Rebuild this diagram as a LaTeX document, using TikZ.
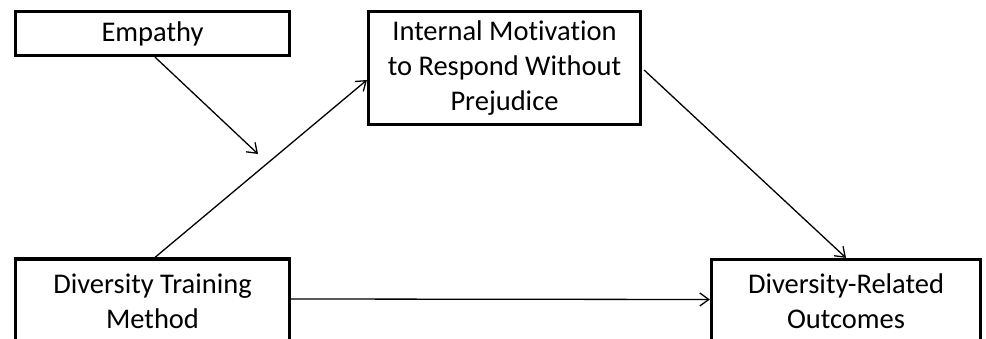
\documentclass[tikz,border=0pt]{standalone}
\usepackage{fontspec}
\setmainfont[Ligatures=NoCommon]{Carlito}
\usetikzlibrary{arrows.meta,calc}
\begin{document}
\begin{tikzpicture}[x=1pt,y=-1pt,
  box/.style={draw=black,line width=3.2pt,fill=white,align=center,inner sep=0pt,
    font=\fontsize{28.5}{35}\selectfont,text=black},
  conn/.style={line width=1.3pt,-{Straight Barb[length=9pt,width=13pt,line width=1.3pt]}}]
\useasboundingbox (0,0) rectangle (986,339);
\fill[white] (0,0) rectangle (986,339);
\node[box,minimum width=274pt,minimum height=44pt] (emp) at (152.5,33.5) {Empathy};
\node[box,minimum width=272pt,minimum height=113pt] (int) at (504.5,68) {Internal Motivation\\to Respond Without\\Prejudice};
\node[box,minimum width=274pt,minimum height=84pt] (train) at (152.5,301) {Diversity Training\\Method};
\node[box,minimum width=269pt,minimum height=84pt] (out) at (846,301.5) {Diversity-Related\\Outcomes};
\coordinate (mod) at (258,154);
\draw[conn] ($(emp.south)+(2.5,0)$) -- (mod);
\draw[conn] ($(train.north)+(2.5,0)$) -- ($(int.west)+(0,12)$);
\draw[conn] ($(int.east)+(2,2)$) -- (out.north);
\draw[conn] ($(train.east)+(0,-2)$) -- ($(out.west)+(0,-2)$);
\end{tikzpicture}
\end{document}
